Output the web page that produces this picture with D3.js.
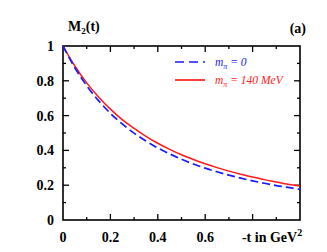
<!DOCTYPE html>
<html>
<head>
<meta charset="utf-8">
<script src="https://cdn.jsdelivr.net/npm/d3@7"></script>
<style>
  body { margin: 0; background: #fff; }
  text { font-family: "Liberation Serif", "Times New Roman", serif; }
</style>
</head>
<body>
<div id="chart"></div>
<script>
// -t values (GeV^2) and the two form factor curves
const tValues = [0, 0.05, 0.1, 0.15, 0.2, 0.25, 0.3, 0.35, 0.4, 0.45, 0.5,
                 0.55, 0.6, 0.65, 0.7, 0.75, 0.8, 0.85, 0.9, 0.95, 1.0];
const chiralM2 = [1, 0.875, 0.772, 0.686, 0.613, 0.552, 0.499, 0.454, 0.414, 0.380, 0.349,
                  0.322, 0.298, 0.277, 0.258, 0.241, 0.225, 0.211, 0.198, 0.187, 0.176];
const physM2 = [1, 0.885, 0.788, 0.707, 0.637, 0.577, 0.526, 0.481, 0.441, 0.406, 0.375,
                0.348, 0.323, 0.301, 0.281, 0.263, 0.247, 0.232, 0.219, 0.206, 0.195];
const xTickLabels = ["0", "0.2", "0.4", "0.6"];
const yTickLabels = ["0", "0.2", "0.4", "0.6", "0.8", "1"];

const W = 327, H = 252;
const m = { left: 63, right: 27, top: 46, bottom: 32 };

const svg = d3.select("#chart").append("svg")
    .attr("width", W).attr("height", H);

const x = d3.scaleLinear().domain([0, 1]).range([m.left, W - m.right]);
const y = d3.scaleLinear().domain([0, 1]).range([H - m.bottom, m.top]);

// ticks, pointing inward on all four sides
const majors = d3.range(0, 1.0001, 0.2);
const minors = d3.range(0.1, 1, 0.2);
const tk = svg.append("g").attr("stroke", "#000").attr("stroke-width", 1.3);
majors.slice(1, -1).forEach(v => {
    tk.append("line").attr("x1", x(v)).attr("x2", x(v)).attr("y1", y(0)).attr("y2", y(0) - 6);
    tk.append("line").attr("x1", x(v)).attr("x2", x(v)).attr("y1", y(1)).attr("y2", y(1) + 6);
    tk.append("line").attr("x1", x(0)).attr("x2", x(0) + 6).attr("y1", y(v)).attr("y2", y(v));
    tk.append("line").attr("x1", x(1)).attr("x2", x(1) - 6).attr("y1", y(v)).attr("y2", y(v));
});
minors.forEach(v => {
    tk.append("line").attr("x1", x(v)).attr("x2", x(v)).attr("y1", y(0)).attr("y2", y(0) - 3);
    tk.append("line").attr("x1", x(v)).attr("x2", x(v)).attr("y1", y(1)).attr("y2", y(1) + 3);
    tk.append("line").attr("x1", x(0)).attr("x2", x(0) + 3).attr("y1", y(v)).attr("y2", y(v));
    tk.append("line").attr("x1", x(1)).attr("x2", x(1) - 3).attr("y1", y(v)).attr("y2", y(v));
});

svg.append("rect")
    .attr("x", x(0)).attr("y", y(1))
    .attr("width", x(1) - x(0)).attr("height", y(0) - y(1))
    .attr("fill", "none").attr("stroke", "#000").attr("stroke-width", 1.6);

// tick labels
svg.append("g").selectAll("text").data(yTickLabels).join("text")
    .attr("x", x(0) - 9).attr("y", (d, i) => y(i * 0.2)).attr("dy", "0.35em")
    .attr("text-anchor", "end").attr("font-size", 14).attr("font-weight", "bold")
    .text(d => d);
svg.append("g").selectAll("text").data(xTickLabels).join("text")
    .attr("x", (d, i) => x(i * 0.2)).attr("y", y(0) + 22)
    .attr("text-anchor", "middle").attr("font-size", 14).attr("font-weight", "bold")
    .text(d => d);

const xl = svg.append("text").attr("x", x(0.755)).attr("y", y(0) + 22)
    .attr("font-size", 14).attr("font-weight", "bold");
xl.append("tspan").text("-t in GeV");
xl.append("tspan").attr("dy", -6).attr("font-size", 10).text("2");

const tt = svg.append("text").attr("x", 68).attr("y", 31)
    .attr("font-size", 14).attr("font-weight", "bold");
tt.append("tspan").text("M");
tt.append("tspan").attr("dy", 3).attr("font-size", 9).text("2");
tt.append("tspan").attr("dy", -3).text("(t)");

svg.append("text").attr("x", 306).attr("y", 33).attr("text-anchor", "end")
    .attr("font-size", 14).attr("font-weight", "bold").text("(a)");

// curves
const line = (vals) => d3.line().x((d, i) => x(tValues[i])).y(d => y(d)).curve(d3.curveMonotoneX)(vals);
svg.append("path").attr("d", line(physM2))
    .attr("fill", "none").attr("stroke", "#ff1a1a").attr("stroke-width", 1.5);
svg.append("path").attr("d", line(chiralM2))
    .attr("fill", "none").attr("stroke", "#1a1aff").attr("stroke-width", 1.7)
    .attr("stroke-dasharray", "8,4");

// legend
const legend = [
    { color: "#1a1aff", dash: "9,5", label: "= 0", y: 62 },
    { color: "#ff1a1a", dash: null, label: "= 140 MeV", y: 80 }
];
legend.forEach(l => {
    svg.append("line").attr("x1", 175).attr("x2", 205).attr("y1", l.y).attr("y2", l.y)
        .attr("stroke", l.color).attr("stroke-width", 1.7)
        .attr("stroke-dasharray", l.dash);
    const t = svg.append("text").attr("x", 215).attr("y", l.y + 4)
        .attr("font-size", 11.5).attr("font-style", "italic").attr("fill", l.color);
    t.append("tspan").text("m");
    t.append("tspan").attr("dy", 2.5).attr("font-size", 8).text("π");
    t.append("tspan").attr("dy", -2.5).text(" " + l.label);
});
</script>
</body>
</html>
